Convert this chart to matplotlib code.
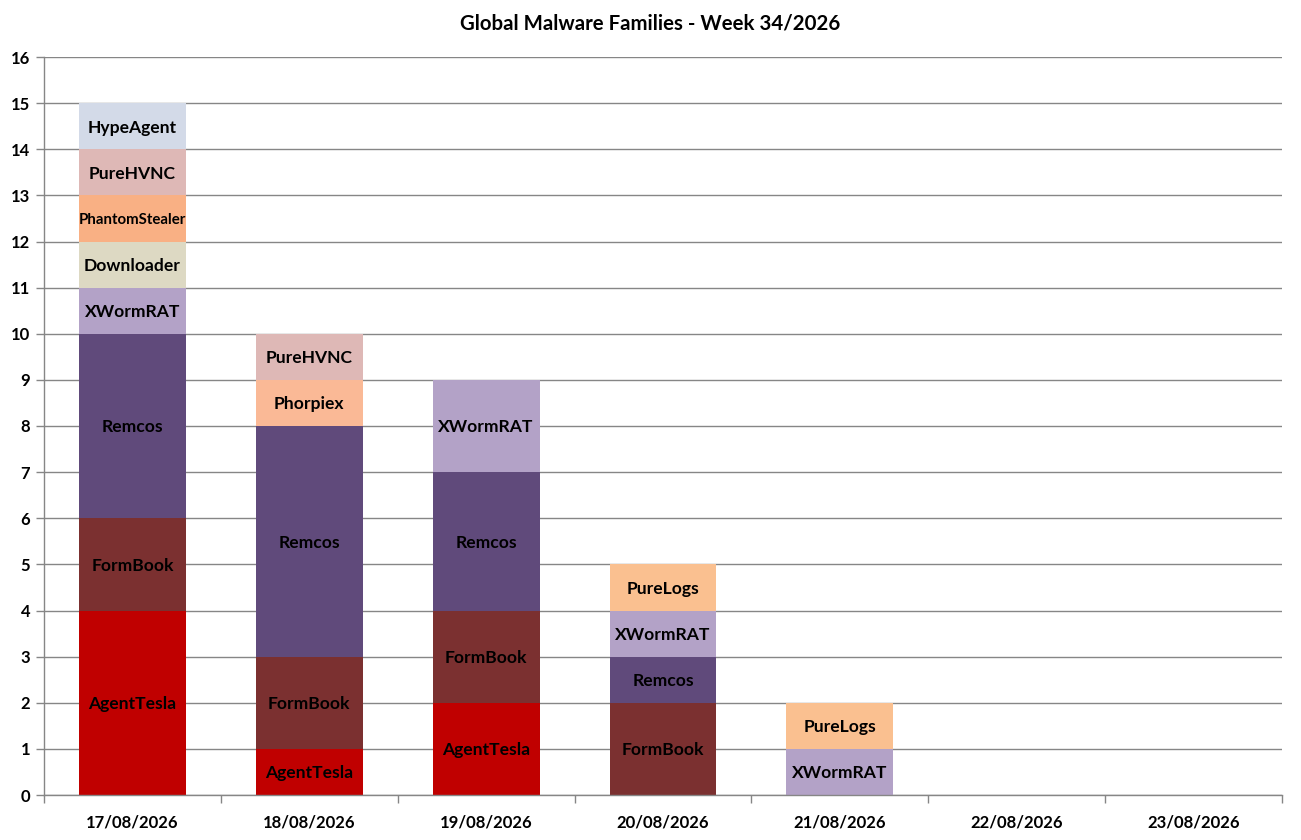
import matplotlib
matplotlib.use("Agg")
import matplotlib.pyplot as plt
import numpy as np

dates = ["17/08/2026", "18/08/2026", "19/08/2026", "20/08/2026",
         "21/08/2026", "22/08/2026", "23/08/2026"]
families = ["AgentTesla", "FormBook", "Remcos", "XWormRAT", "Downloader",
            "PhantomStealer", "Phorpiex", "PureLogs", "PureHVNC", "HypeAgent"]
agenttesla = [4, 1, 2, 0, 0, 0, 0]
formbook = [2, 2, 2, 2, 0, 0, 0]
remcos = [4, 5, 3, 1, 0, 0, 0]
xwormrat = [1, 0, 2, 1, 1, 0, 0]
downloader = [1, 0, 0, 0, 0, 0, 0]
phantomstealer = [1, 0, 0, 0, 0, 0, 0]
phorpiex = [0, 1, 0, 0, 0, 0, 0]
purelogs = [0, 0, 0, 1, 1, 0, 0]
purehvnc = [1, 1, 0, 0, 0, 0, 0]
hypeagent = [1, 0, 0, 0, 0, 0, 0]
series = [agenttesla, formbook, remcos, xwormrat, downloader,
          phantomstealer, phorpiex, purelogs, purehvnc, hypeagent]
colors = ["#C00000", "#7B3030", "#604A7B", "#B3A2C7", "#DDD9C3",
          "#F9B084", "#FAB996", "#FAC090", "#DEB8B6", "#D3DAE8"]
yticks = list(range(0, 17))

plt.rcParams['font.family'] = ['Lato', 'DejaVu Sans']
fig = plt.figure(figsize=(13.01, 8.4), dpi=100)
ax = fig.add_axes([44/1301, 45/840, (1282-44)/1301, (795-57)/840])

x = np.arange(len(dates))
bottom = np.zeros(len(dates))
w = 0.605
for name, vals, col in zip(families, series, colors):
    vals = np.array(vals, dtype=float)
    ax.bar(x, vals, w, bottom=bottom, color=col, zorder=2, linewidth=0)
    for xi, v, b in zip(x, vals, bottom):
        if v > 0:
            fs = 10.8 if name == "PhantomStealer" else 12.6
            ax.text(xi, b + v / 2, name, ha="center", va="center_baseline",
                    fontsize=fs, fontweight="bold", color="black", zorder=3)
    bottom += vals

ax.set_xlim(-0.5, len(dates) - 0.5)
ax.set_ylim(0, 16)
ax.set_yticks(yticks)
ax.set_yticklabels([str(t) for t in yticks], fontsize=12, fontweight="bold")
ax.set_xticks(x)
ax.set_xticklabels(dates, fontsize=12, fontweight="bold")
ax.set_xticks(np.arange(-0.5, len(dates)), minor=True)
ax.tick_params(axis="x", which="major", length=0, pad=14)
ax.tick_params(axis="x", which="minor", length=6, color="#868686", width=1)
ax.tick_params(axis="y", length=6, color="#868686", width=1, pad=4)
ax.yaxis.grid(True, color="#868686", linewidth=1, zorder=0)
ax.set_axisbelow(True)
for s in ["top", "right"]:
    ax.spines[s].set_visible(False)
for s in ["left", "bottom"]:
    ax.spines[s].set_color("#868686")
    ax.spines[s].set_linewidth(1)

fig.text(0.5, 1 - 24/840, "Global Malware Families - Week 34/2026", ha="center",
         va="center", fontsize=14.7, fontweight="bold")

fig.savefig("out.png", dpi=100)
